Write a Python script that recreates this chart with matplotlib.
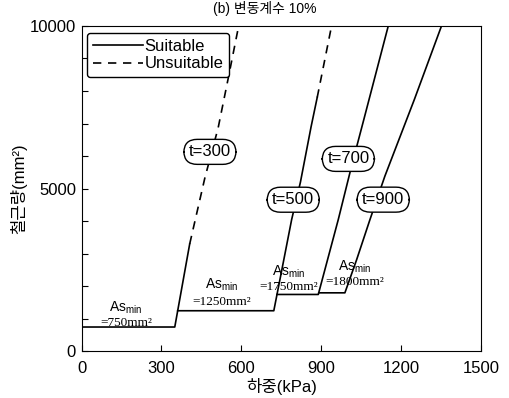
import matplotlib
matplotlib.use("Agg")
import matplotlib.pyplot as plt
from matplotlib.ticker import MultipleLocator

plt.rcParams['font.family'] = ['Liberation Sans', 'Noto Sans CJK KR', 'DejaVu Sans']
plt.rcParams['mathtext.fontset'] = 'custom'
plt.rcParams['mathtext.rm'] = 'Liberation Sans'

# load (kPa) vs required steel area (mm^2) for each thickness t
t300_load = [0, 350, 406]
t300_as = [750, 750, 3300]
t300_load_uns = [406, 463, 513, 551, 590]
t300_as_uns = [3300, 5330, 6870, 8400, 10000]

t500_load = [361, 722, 757, 789, 822, 862, 885]
t500_as = [1250, 1250, 2710, 4050, 5200, 6900, 7800]
t500_load_uns = [885, 939]
t500_as_uns = [7800, 10000]

t700_load = [734, 889, 964, 1014, 1060, 1152]
t700_as = [1750, 1750, 4046, 5690, 7120, 10000]

t900_load = [891, 989, 1033, 1083, 1139, 1250, 1352]
t900_as = [1800, 1800, 2815, 4046, 5380, 7740, 10000]

t_labels = ['t=300', 't=500', 't=700', 't=900']
t_label_pos = [(482, 6130), (795, 4660), (1002, 5914), (1133, 4662)]

asmin_values = [750, 1250, 1750, 1800]
asmin_pos = [(166, 1329, 886), (525, 2046, 1532), (776, 2455, 1994), (1025, 2609, 2120)]

fig = plt.figure(figsize=(5.10, 3.98), dpi=100)
ax = fig.add_axes([0.160, 0.117, 0.783, 0.818])

lw = 1.2
ax.plot(t300_load, t300_as, 'k-', lw=lw, label='Suitable')
ax.plot(t300_load_uns, t300_as_uns, 'k--', lw=lw, dashes=(5, 4), label='Unsuitable')
ax.plot(t500_load, t500_as, 'k-', lw=lw)
ax.plot(t500_load_uns, t500_as_uns, 'k--', lw=lw, dashes=(5, 4))
ax.plot(t700_load, t700_as, 'k-', lw=lw)
ax.plot(t900_load, t900_as, 'k-', lw=lw)

for lab, (x, y) in zip(t_labels, t_label_pos):
    ax.text(x, y, lab, ha='center', va='center', fontsize=12, zorder=5,
            bbox=dict(boxstyle='round,pad=0.3,rounding_size=0.8', fc='white', ec='black', lw=1.0))

for val, (x, y1, y2) in zip(asmin_values, asmin_pos):
    ax.text(x, y1, r'As$_{\mathregular{min}}$', ha='center', va='center', fontsize=10)
    ax.text(x, y2, '=%dmm²' % val, ha='center', va='center', fontsize=9.5,
            family='Liberation Serif')

ax.set_xlim(0, 1500)
ax.set_ylim(0, 10000)
ax.set_xticks([0, 300, 600, 900, 1200, 1500])
ax.set_yticks([0, 5000, 10000])
ax.yaxis.set_minor_locator(MultipleLocator(1000))
ax.tick_params(axis='both', which='both', direction='in', labelsize=12, length=4, width=0.8)
ax.tick_params(axis='x', pad=7)
ax.tick_params(axis='y', pad=4)
for s in ax.spines.values():
    s.set_linewidth(0.8)

ax.set_xlabel('하중(kPa)', fontsize=12, labelpad=1)
ax.set_ylabel('철근량(mm²)', fontsize=12, labelpad=2)

leg = ax.legend(loc='upper left', bbox_to_anchor=(0.013, 0.978), borderaxespad=0,
                fontsize=12, handlelength=3.0, handletextpad=0.1, borderpad=0.35,
                labelspacing=0.15, fancybox=True, framealpha=1, edgecolor='black')
leg.get_frame().set_linewidth(1.0)

fig.text(0.52, 1 - 1 / 398, '(b) 변동계수 10%', ha='center', va='top', fontsize=10)

fig.savefig('out.png', dpi=100)
